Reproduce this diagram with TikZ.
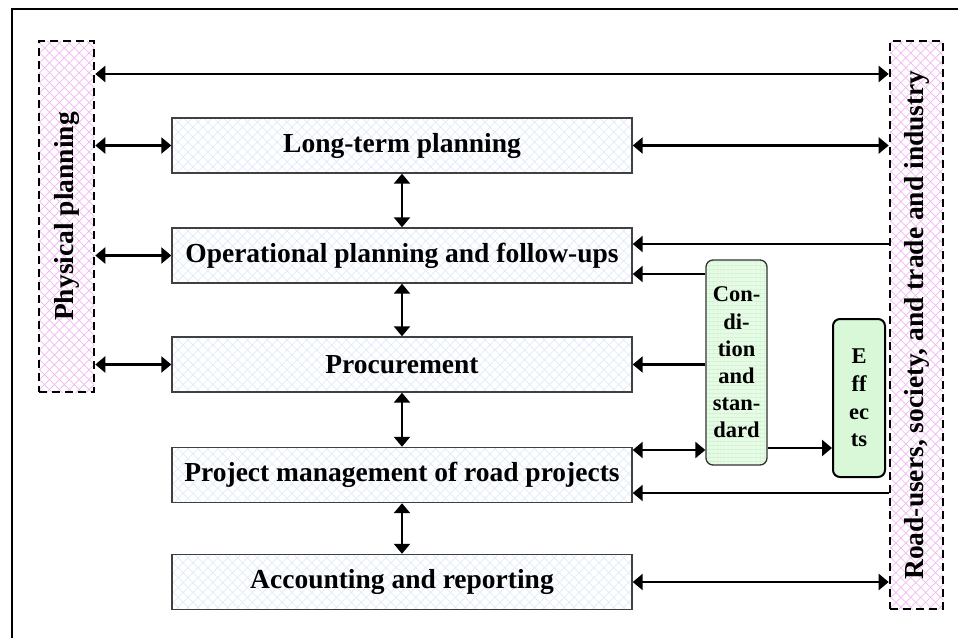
\documentclass[tikz,border=0pt]{standalone}
\usepackage{fontspec}
\setmainfont{Liberation Serif}
\usetikzlibrary{arrows.meta,patterns.meta}

\definecolor{hatchblue}{HTML}{E0EBFA}
\definecolor{hatchpink}{HTML}{F2B8F2}
\definecolor{gridgreen}{HTML}{C8EEC8}
\definecolor{condgreen}{HTML}{E6FCE6}
\definecolor{effgreen}{HTML}{D8F8D8}

\tikzset{
    xhatch/.style={preaction={fill=white},
        preaction={pattern={Lines[angle=45,distance=7pt,line width=0.7pt]},pattern color=#1},
        preaction={pattern={Lines[angle=-45,distance=7pt,line width=0.7pt]},pattern color=#1}},
    mainbox/.style={draw=black!75, line width=1.4pt, xhatch=hatchblue, minimum width=460pt,
        minimum height=55pt, inner sep=0pt, font=\fontsize{27.5}{31}\selectfont\bfseries},
    sidebox/.style={draw=black, line width=2.6pt, dash pattern=on 8pt off 5pt, xhatch=hatchpink,
        inner sep=0pt, font=\fontsize{27.5}{31}\selectfont\bfseries},
    condbox/.style={draw=black!80, line width=1.3pt, rounded corners=7pt,
        preaction={fill=condgreen},
        preaction={pattern={Lines[angle=0,distance=4pt,line width=0.4pt]},pattern color=gridgreen},
        preaction={pattern={Lines[angle=90,distance=4pt,line width=0.4pt]},pattern color=gridgreen},
        minimum width=61pt, minimum height=205pt, inner sep=0pt, align=center,
        font=\fontsize{22.5}{27.2}\selectfont\bfseries},
    effbox/.style={draw=black, line width=2pt, rounded corners=7pt, fill=effgreen,
        minimum width=52pt, minimum height=158pt, inner sep=0pt, align=center,
        font=\fontsize{22.5}{27.7}\selectfont\bfseries},
    dbl/.style={{Triangle[length=10pt,width=16pt]}-{Triangle[length=10pt,width=16pt]}, line width=2.4pt},
    sgl/.style={-{Triangle[length=10pt,width=16pt]}, line width=2.4pt}
}

\begin{document}
\begin{tikzpicture}[x=1pt, y=-1pt]
    \clip (0,0) rectangle (958,637);
    \draw[line width=2pt] (12,9) rectangle (980,660);

    % side boxes
    \node[sidebox, minimum width=55pt, minimum height=351pt] (phys) at (66.5,216.5) {\rotatebox{90}{Physical planning}};
    \node[sidebox, minimum width=53pt, minimum height=568pt] (road) at (916.5,325) {\rotatebox{90}{Road-users, society, and trade and industry}};

    % main column
    \node[mainbox] (lt) at (402,145.5) {Long-term planning};
    \node[mainbox] (op) at (402,255.5) {Operational planning and follow-ups};
    \node[mainbox] (proc) at (402,364.5) {Procurement};
    \node[mainbox] (pm) at (402,475) {Project management of road projects};
    \node[mainbox] (acc) at (402,582) {Accounting and reporting};

    \node[condbox] (cond) at (736.5,362.5) {Con-\\di-\\tion\\and\\stan-\\dard};
    \node[effbox] (eff) at (859,398) {E\\ff\\ec\\ts};

    \coordinate (rowtop) at (0,74);
    \coordinate (rowop) at (0,244);
    \coordinate (rowcond) at (0,274);
    \coordinate (rowpm) at (0,450);
    \coordinate (roweff) at (0,448);
    \coordinate (rowback) at (0,493);

    % left side
    \draw[dbl] (phys.east |- rowtop) -- (road.west |- rowtop);
    \draw[dbl] (phys.east |- lt.west) -- (lt.west);
    \draw[dbl] (phys.east |- op.west) -- (op.west);
    \draw[dbl] (phys.east |- proc.west) -- (proc.west);

    % down the column
    \draw[dbl] (lt) -- (op);
    \draw[dbl] (op) -- (proc);
    \draw[dbl] (proc) -- (pm);
    \draw[dbl] (pm) -- (acc);

    % right side
    \draw[dbl] (lt.east) -- (road.west |- lt.east);
    \draw[sgl] (road.west |- rowop) -- (op.east |- rowop);
    \draw[sgl] (cond.west |- rowcond) -- (op.east |- rowcond);
    \draw[sgl] (cond.west |- proc.east) -- (proc.east);
    \draw[dbl] (pm.east |- rowpm) -- (cond.west |- rowpm);
    \draw[sgl] (cond.east |- roweff) -- (eff.west |- roweff);
    \draw[sgl] (road.west |- rowback) -- (pm.east |- rowback);
    \draw[dbl] (acc.east) -- (road.west |- acc.east);
\end{tikzpicture}
\end{document}
